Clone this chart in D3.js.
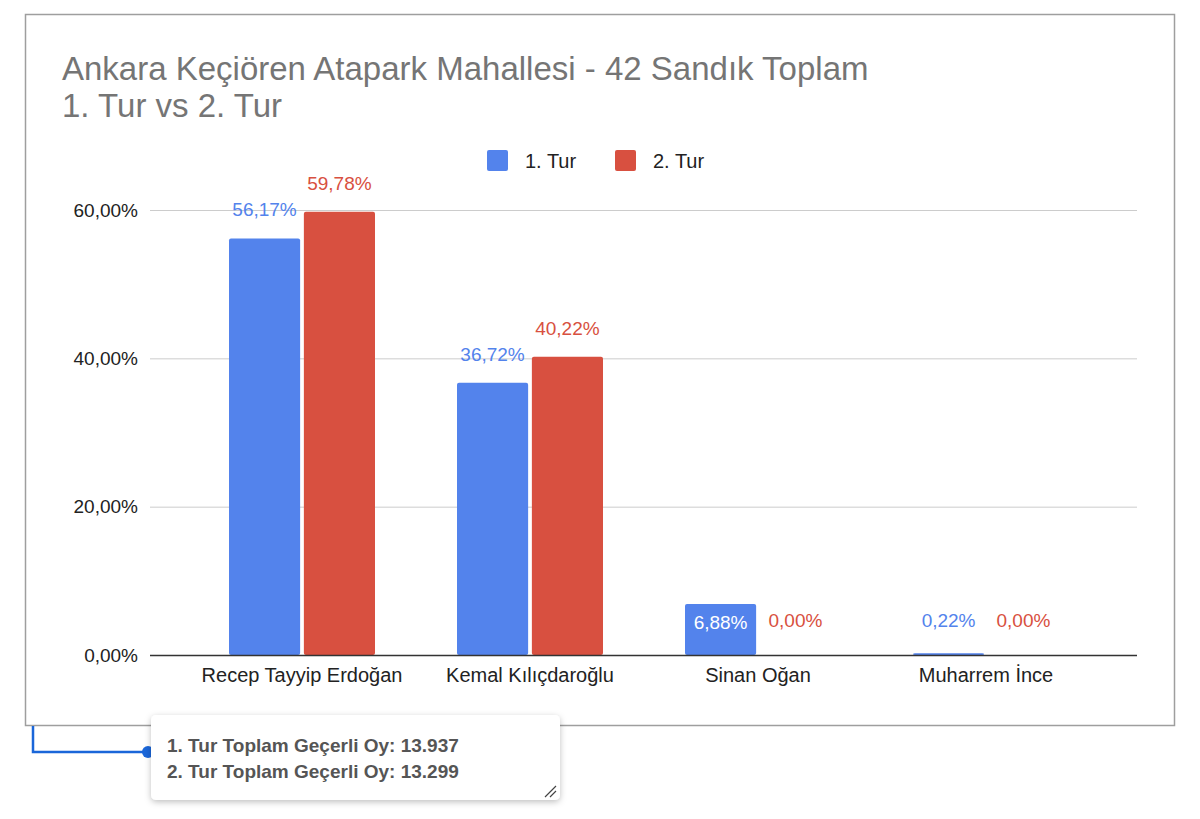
<!DOCTYPE html>
<html><head><meta charset="utf-8">
<script src="https://cdn.jsdelivr.net/npm/d3@7"></script>
<style>body{margin:0;background:#fff;font-family:"Liberation Sans",Arial,sans-serif}</style>
</head><body><svg id="c" width="1200" height="819" font-family="Liberation Sans, Arial, sans-serif"></svg>
<script>
const categories=["Recep Tayyip Erdoğan","Kemal Kılıçdaroğlu","Sinan Oğan","Muharrem İnce"];
const tur1=[56.17,36.72,6.88,0.22];
const tur2=[59.78,40.22,0.00,0.00];
const seriesNames=["1. Tur","2. Tur"];
const colors=["#5383ec","#d85040"];
const yTicks=[0,20,40,60];
const fmt=v=>v.toFixed(2).replace(".",",")+"%";
const FF="Liberation Sans, Arial, sans-serif";
const svg=d3.select("#c");
svg.append("rect").attr("x",25.5).attr("y",14.5).attr("width",1149).attr("height",711).attr("fill","#fff").attr("stroke","#9e9e9e").attr("stroke-width",1.5);
svg.append("text").attr("x",62).attr("y",80).attr("font-size",33).attr("fill","#757575").text("Ankara Keçiören Atapark Mahallesi - 42 Sandık Toplam");
svg.append("text").attr("x",62).attr("y",117).attr("font-size",33).attr("fill","#757575").text("1. Tur vs 2. Tur");
const lx=[487,615];
seriesNames.forEach((n,i)=>{svg.append("rect").attr("x",lx[i]).attr("y",150).attr("width",21).attr("height",21).attr("rx",2).attr("fill",colors[i]);
svg.append("text").attr("x",lx[i]+38).attr("y",168).attr("font-size",20).attr("fill","#222").text(n);});
const y=d3.scaleLinear().domain([0,60]).range([655,210]);
const x=d3.scaleBand().domain(categories).range([188,1100]);
const xs=d3.scaleBand().domain([0,1]).range([0,146]).paddingInner(0.05);
const ya=svg.append("g").attr("transform","translate(150,0)").call(d3.axisLeft(y).tickValues(yTicks).tickSize(-987).tickFormat(fmt));
ya.select(".domain").remove();
ya.selectAll("line").attr("stroke","#ccc");
ya.selectAll("text").attr("font-size",19).attr("fill","#222").attr("x",-12).attr("font-family",FF);
const data=categories.map((c,i)=>[tur1[i],tur2[i]]);
categories.forEach((c,i)=>{
 const cx=x(c)+x.bandwidth()/2-73;
 [0,1].forEach(s=>{
  const v=data[i][s];
  const bx=cx+xs(s);
  svg.append("rect").attr("x",bx).attr("y",y(v)).attr("width",xs.bandwidth()).attr("height",655-y(v)).attr("rx",2).attr("fill",colors[s]);
  const inside=(v>5&&v<10);
  svg.append("text").attr("x",bx+xs.bandwidth()/2).attr("y",inside?y(v)+25:Math.min(y(v)-22,627)).attr("text-anchor","middle").attr("font-size",19)
   .attr("fill",inside?"#fff":colors[s]).text(fmt(v));
 });
});
svg.append("line").attr("x1",150).attr("x2",1137).attr("y1",655.5).attr("y2",655.5).attr("stroke","#333").attr("stroke-width",1.5);
const xa=svg.append("g").attr("transform","translate(0,655)").call(d3.axisBottom(x).tickSize(0));
xa.select(".domain").remove();
xa.selectAll("text").attr("font-size",20).attr("fill","#222").attr("dy",24).attr("font-family",FF);
svg.append("path").attr("d","M33,726V752H148").attr("fill","none").attr("stroke","#1a66d9").attr("stroke-width",2.5);
svg.append("circle").attr("cx",148).attr("cy",752).attr("r",6).attr("fill","#1a66d9");
const defs=svg.append("defs");const f=defs.append("filter").attr("id","sh").attr("x","-10%").attr("y","-20%").attr("width","120%").attr("height","150%");
f.append("feDropShadow").attr("dx",0).attr("dy",2).attr("stdDeviation",3).attr("flood-color","#000").attr("flood-opacity",0.25);
svg.append("rect").attr("x",151).attr("y",715).attr("width",409).attr("height",85).attr("rx",5).attr("fill","#fff").attr("filter","url(#sh)");
["1. Tur Toplam Geçerli Oy: 13.937","2. Tur Toplam Geçerli Oy: 13.299"].forEach((t,i)=>svg.append("text").attr("x",167).attr("y",752+i*26).attr("font-size",19).attr("font-weight",700).attr("fill","#555").text(t));
svg.append("path").attr("d","M545,797L556,786M550,797L556,791").attr("stroke","#444").attr("stroke-width",1.2);
</script></body></html>
